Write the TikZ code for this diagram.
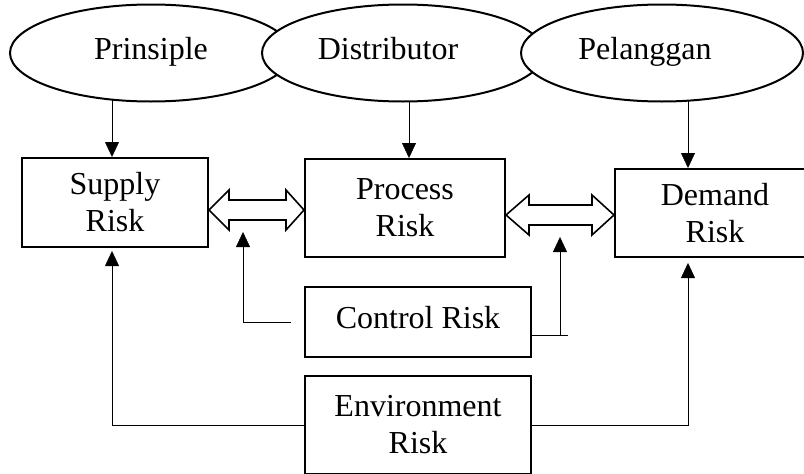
\documentclass[tikz,border=0pt]{standalone}
\usepackage{fontspec}
\setmainfont{Liberation Serif}
\usetikzlibrary{shapes.geometric,arrows.meta,calc,backgrounds}
\begin{document}
\begin{tikzpicture}[x=1pt,y=-1pt,
  line width=2pt,
  every node/.style={font=\fontsize{32}{37}\selectfont},
  oval/.style={ellipse,draw,fill=white,minimum width=282pt,minimum height=97pt,inner sep=0pt,text height=22pt,text depth=10pt},
  box/.style={rectangle,draw,fill=white,inner sep=0pt,align=center},
  arr/.style={-{Triangle[length=15pt,width=14pt]}},
  hollow/.style={draw,fill=white,line width=1.6pt,line join=miter}
]
\useasboundingbox (0,0) rectangle (804,474);
\clip (0,0) rectangle (804,474);

% ellipses (later ones overlap earlier ones)
\node[oval] (e1) at (151,53) {Prinsiple};
\node[oval] (e2) at (403,53) {\hspace*{-30pt}Distributor};
\node[oval] (e3) at (662,53) {\hspace*{-34pt}Pelanggan};

% boxes
\node[box,minimum width=186pt,minimum height=89pt] (sup) at (115,202.5) {Supply\\Risk};
\node[box,minimum width=200pt,minimum height=98pt] (pro) at (405,208) {Process\\Risk};
\node[box,minimum width=200pt,minimum height=88pt] (dem) at (715,213) {Demand\\Risk};
\node[box,minimum width=226pt,minimum height=70pt,text height=22pt,text depth=9pt] (ctl) at (418,322) {Control Risk};
\node[box,minimum width=226pt,minimum height=98pt] (env) at (418,425) {Environment\\Risk};

% helper coordinates
\coordinate (xa) at (112,0);
\coordinate (xb) at (409,0);
\coordinate (xc) at (688,0);
\coordinate (c1) at (243,232);
\coordinate (c2) at (560,237);
\coordinate (c3) at (568,335);
\coordinate (d1) at (0,210);
\coordinate (d2) at (0,215);

% arrows from ellipses to boxes (behind ellipses)
\begin{pgfonlayer}{background}
\draw[arr] (xa |- e1.center) -- (xa |- sup.north);
\draw[arr] (xb |- e2.center) -- (xb |- pro.north);
\draw[arr] (xc |- e3.center) -- (xc |- dem.north);
\end{pgfonlayer}

% hollow double arrows
\draw[hollow] (sup.east |- d1) -- ++(20,-20) -- ++(0,10)
  -- ($(pro.west |- d1)+(-18,-10)$) -- ++(0,-10) -- (pro.west |- d1)
  -- ++(-18,20) -- ++(0,-10) -- ($(sup.east |- d1)+(20,10)$) -- ++(0,10) -- cycle;
\draw[hollow] (pro.east |- d2) -- ++(23,-20) -- ++(0,10)
  -- ($(dem.west |- d2)+(-22,-10)$) -- ++(0,-10) -- (dem.west |- d2)
  -- ++(-22,20) -- ++(0,-10) -- ($(pro.east |- d2)+(23,10)$) -- ++(0,10) -- cycle;

% control risk connectors
\draw[arr] ($(ctl.west)+(-13,0)$) -| (c1);
\draw (ctl.east |- c3) -- (c3);
\draw[arr] (c2 |- c3) -- (c2);

% environment risk connectors
\draw[arr,shorten >=3pt] (env.west) -| (xa |- sup.south);
\draw[arr,shorten >=5pt] (env.east) -| (xc |- dem.south);
\end{tikzpicture}
\end{document}
